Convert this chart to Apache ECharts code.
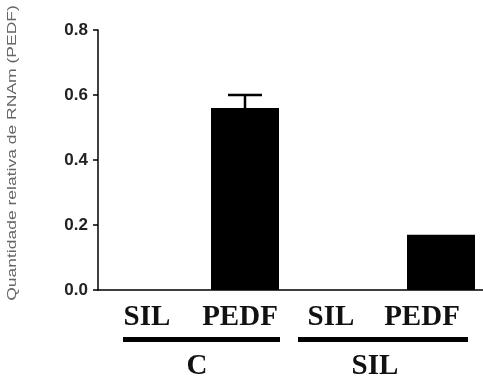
<!DOCTYPE html>
<html>
<head>
<meta charset="utf-8">
<script src="https://cdn.jsdelivr.net/npm/echarts@6/dist/echarts.min.js"></script>
<style>
  html, body { margin: 0; padding: 0; background: #fff; }
  #chart { width: 483px; height: 380px; }
</style>
</head>
<body>
<div id="chart"></div>
<script>
var categories = ["SIL", "PEDF", "SIL", "PEDF"];
var groups = ["C", "SIL"];
var means = [0, 0.56, 0, 0.17];
var errors = [0, 0.04, 0, 0];
var yTicks = [0, 0.2, 0.4, 0.6, 0.8];

// small left shifts so the typed labels sit like in the figure
var labelShift = [0, 10, 24, 38];

var chart = echarts.init(document.getElementById("chart"));

var errData = [];
means.forEach(function (m, i) {
  if (errors[i] > 0) errData.push([i, m, m + errors[i]]);
});

var rich = {};
labelShift.forEach(function (p, i) {
  rich["l" + i] = {
    fontFamily: "'Liberation Serif', 'Times New Roman', serif",
    fontWeight: "bold",
    fontSize: 29,
    color: "#111",
    padding: [0, p, 0, 0]
  };
});

var option = {
  backgroundColor: "#fff",
  animation: false,
  grid: { left: 98, top: 30, width: 392, height: 260, outerBoundsMode: "none", containLabel: false },
  xAxis: {
    type: "category",
    data: categories,
    axisLine: { lineStyle: { color: "#000", width: 1.5 } },
    axisTick: { alignWithLabel: true, length: 5, lineStyle: { color: "#000", width: 1.5 } },
    axisLabel: {
      margin: 13,
      formatter: function (v, i) { return "{l" + i + "|" + v + "}"; },
      rich: rich
    }
  },
  yAxis: {
    type: "value",
    min: yTicks[0],
    max: yTicks[yTicks.length - 1],
    interval: 0.2,
    splitLine: { show: false },
    axisLine: { show: true, lineStyle: { color: "#000", width: 1.5 } },
    axisTick: { show: true, length: 5, lineStyle: { color: "#000", width: 1.5 } },
    axisLabel: {
      margin: 10,
      color: "#222",
      fontFamily: "'Liberation Sans', Arial, sans-serif",
      fontWeight: "bold",
      fontSize: 17,
      formatter: function (v) { return v.toFixed(1); }
    }
  },
  series: [
    {
      type: "bar",
      data: means,
      barWidth: 68,
      itemStyle: { color: "#000" }
    },
    {
      type: "custom",
      data: errData,
      z: 1,
      renderItem: function (params, api) {
        var base = api.coord([api.value(0), api.value(1)]);
        var top = api.coord([api.value(0), api.value(2)]);
        var half = 17;
        var st = { stroke: "#000", lineWidth: 2.5 };
        return {
          type: "group",
          children: [
            { type: "line", shape: { x1: base[0], y1: base[1], x2: top[0], y2: top[1] }, style: st },
            { type: "line", shape: { x1: top[0] - half, y1: top[1], x2: top[0] + half, y2: top[1] }, style: st }
          ]
        };
      }
    }
  ],
  graphic: [
    {
      type: "text",
      x: 13,
      y: 153,
      rotation: Math.PI / 2,
      scaleX: 1.4,
      style: {
        text: "Quantidade relativa de RNAm (PEDF)",
        fontFamily: "'Liberation Sans', Arial, sans-serif",
        fontSize: 12.5,
        fill: "#666",
        align: "center",
        verticalAlign: "middle"
      }
    },
    { type: "rect", shape: { x: 123, y: 337, width: 157, height: 5 }, style: { fill: "#000" } },
    { type: "rect", shape: { x: 298, y: 337, width: 170, height: 5 }, style: { fill: "#000" } },
    {
      type: "text", x: 197, y: 367,
      style: {
        text: groups[0], fill: "#111", align: "center", verticalAlign: "middle",
        fontFamily: "'Liberation Serif', 'Times New Roman', serif", fontWeight: "bold", fontSize: 29
      }
    },
    {
      type: "text", x: 375, y: 367,
      style: {
        text: groups[1], fill: "#111", align: "center", verticalAlign: "middle",
        fontFamily: "'Liberation Serif', 'Times New Roman', serif", fontWeight: "bold", fontSize: 29
      }
    }
  ]
};

chart.setOption(option);
</script>
</body>
</html>
